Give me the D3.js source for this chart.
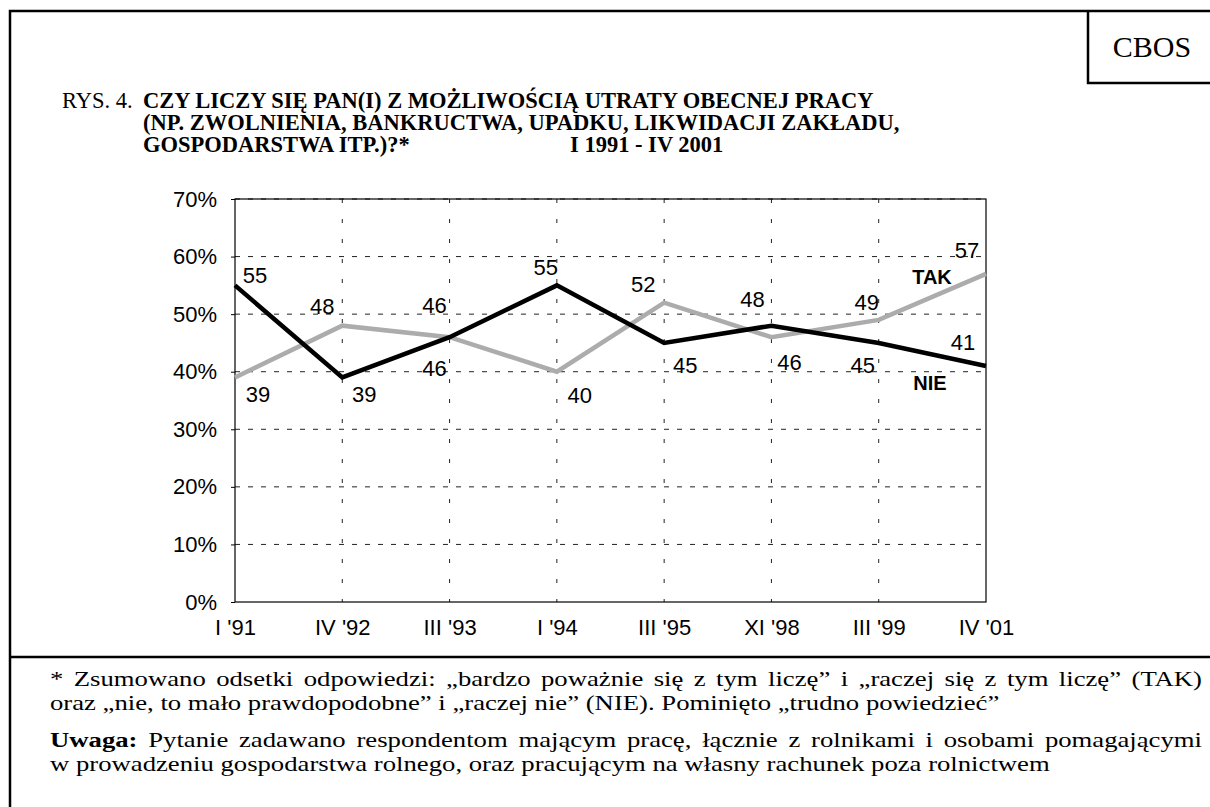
<!DOCTYPE html>
<html>
<head>
<meta charset="utf-8">
<script src="https://cdn.jsdelivr.net/npm/d3@7"></script>
<style>
  body { margin: 0; background: #fff; }
  svg { display: block; }
</style>
</head>
<body>
<svg id="chart"></svg>
<script>
const width = 1210;
const height = 807;

// data
const periods = ["I '91", "IV '92", "III '93", "I '94", "III '95", "XI '98", "III '99", "IV '01"];
const takValues = [39, 48, 46, 40, 52, 46, 49, 57];
const nieValues = [55, 39, 46, 55, 45, 48, 45, 41];
const yTicks = [0, 10, 20, 30, 40, 50, 60, 70];

const titlePrefix = 'RYS. 4.';
const titleLines = [
  'CZY LICZY SIĘ PAN(I) Z MOŻLIWOŚCIĄ UTRATY OBECNEJ PRACY',
  '(NP. ZWOLNIENIA, BANKRUCTWA, UPADKU, LIKWIDACJI ZAKŁADU,',
  'GOSPODARSTWA ITP.)?*'
];
const titleRange = 'I 1991 - IV 2001';
const noteLines = [
  '* Zsumowano odsetki odpowiedzi: „bardzo poważnie się z tym liczę” i „raczej się z tym liczę” (TAK)',
  'oraz „nie, to mało prawdopodobne” i „raczej nie” (NIE). Pominięto „trudno powiedzieć”',
  'Pytanie zadawano respondentom mającym pracę, łącznie z rolnikami i osobami pomagającymi',
  'w prowadzeniu gospodarstwa rolnego, oraz pracującym na własny rachunek poza rolnictwem'
];

const serif = '"Liberation Serif", "Times New Roman", serif';
const sans = '"Liberation Sans", Arial, sans-serif';

const svg = d3.select('#chart')
  .attr('width', width)
  .attr('height', height);

// frame
svg.append('rect')
  .attr('x', 10).attr('y', 11)
  .attr('width', 1210).attr('height', 810)
  .attr('fill', 'none').attr('stroke', '#000').attr('stroke-width', 2.5);
svg.append('line')
  .attr('x1', 10).attr('x2', width).attr('y1', 657).attr('y2', 657)
  .attr('stroke', '#000').attr('stroke-width', 2.5);
svg.append('path')
  .attr('d', 'M1088,11V83H1210')
  .attr('fill', 'none').attr('stroke', '#000').attr('stroke-width', 2.5);
svg.append('text')
  .attr('x', 1152).attr('y', 57)
  .attr('text-anchor', 'middle')
  .style('font-family', serif).style('font-size', '30px')
  .text('CBOS');

// title
const title = svg.append('g')
  .style('font-family', serif).style('font-size', '22.5px');
title.append('text').attr('x', 62).attr('y', 108).text(titlePrefix);
title.append('text').attr('x', 143).attr('y', 108)
  .attr('font-weight', 'bold').text(titleLines[0]);
title.append('text').attr('x', 143).attr('y', 130)
  .attr('font-weight', 'bold').text(titleLines[1]);
title.append('text').attr('x', 143).attr('y', 152)
  .attr('font-weight', 'bold').text(titleLines[2]);
title.append('text').attr('x', 570).attr('y', 152)
  .attr('font-weight', 'bold').text(titleRange);

// plot
const plot = { left: 235, right: 986, top: 199, bottom: 602 };

const x = d3.scalePoint().domain(periods).range([plot.left, plot.right]);
const y = d3.scaleLinear().domain([0, 70]).range([plot.bottom, plot.top]);

const grid = svg.append('g');
grid.selectAll('.hgrid')
  .data(yTicks.filter(d => d > 0))
  .enter().append('line')
  .attr('x1', plot.left).attr('x2', plot.right)
  .attr('y1', d => y(d)).attr('y2', d => y(d))
  .attr('stroke', '#222').attr('stroke-width', 1)
  .attr('stroke-dasharray', '5,8');
grid.selectAll('.vgrid')
  .data(periods.slice(1, -1))
  .enter().append('line')
  .attr('x1', d => x(d)).attr('x2', d => x(d))
  .attr('y1', plot.top).attr('y2', plot.bottom)
  .attr('stroke', '#222').attr('stroke-width', 1)
  .attr('stroke-dasharray', '4,16');

svg.append('rect')
  .attr('x', plot.left).attr('y', plot.top)
  .attr('width', plot.right - plot.left).attr('height', plot.bottom - plot.top)
  .attr('fill', 'none').attr('stroke', '#000').attr('stroke-width', 1.2);

const yAxis = svg.append('g')
  .attr('transform', `translate(${plot.left},0)`)
  .call(d3.axisLeft(y).tickValues(yTicks).tickFormat(d => d + '%').tickSize(4).tickPadding(14));
const xAxis = svg.append('g')
  .attr('transform', `translate(0,${plot.bottom})`)
  .call(d3.axisBottom(x).tickSize(0).tickPadding(17));
[yAxis, xAxis].forEach(a => {
  a.select('.domain').remove();
  a.selectAll('text').style('font-family', sans).style('font-size', '22px').attr('fill', '#000');
});

const line = d3.line()
  .x((d, i) => x(periods[i]))
  .y(d => y(d));

svg.append('path').datum(takValues)
  .attr('d', line)
  .attr('fill', 'none').attr('stroke', '#acacac').attr('stroke-width', 4.5);
svg.append('path').datum(nieValues)
  .attr('d', line)
  .attr('fill', 'none').attr('stroke', '#000').attr('stroke-width', 4.5);

// value labels, nudged off their points like the original
const takShift = [[23, 17], [-20, -20], [-15, -32], [23, 23], [-21, -19], [18, 25], [-12, -18], [-19, -24]];
const nieShift = [[20, -10], [22, 17], [-15, 31], [-11, -18], [21, 22], [-19, -27], [-16, 22], [-23, -24]];

function valueLabels(values, shift) {
  svg.append('g').selectAll('text')
    .data(values)
    .enter().append('text')
    .attr('x', (d, i) => x(periods[i]) + shift[i][0])
    .attr('y', (d, i) => y(d) + shift[i][1])
    .attr('dy', '0.36em')
    .attr('text-anchor', 'middle')
    .style('font-family', sans).style('font-size', '22px')
    .text(d => d);
}
valueLabels(takValues, takShift);
valueLabels(nieValues, nieShift);

const last = periods.length - 1;
svg.append('text')
  .attr('x', x(periods[last]) - 54).attr('y', y(takValues[last]) + 3)
  .attr('dy', '0.36em').attr('text-anchor', 'middle')
  .style('font-family', sans).style('font-size', '20px').style('font-weight', 'bold')
  .text('TAK');
svg.append('text')
  .attr('x', x(periods[last]) - 56).attr('y', y(nieValues[last]) + 17)
  .attr('dy', '0.36em').attr('text-anchor', 'middle')
  .style('font-family', sans).style('font-size', '20px').style('font-weight', 'bold')
  .text('NIE');

// notes below the chart: the original face is set wide, so stretch it
const notes = svg.append('g')
  .style('font-family', serif).style('font-size', '22px');
const noteY = [686, 710, 747, 771];
const rows = noteY.map(yy => notes.append('g').attr('transform', `translate(50,${yy})`));
const n1 = rows[0].append('text').text(noteLines[0]);
rows[1].append('text').text(noteLines[1]);
const n3 = rows[2].append('text');
n3.append('tspan').attr('font-weight', 'bold').text('Uwaga: ');
n3.append('tspan').text(noteLines[2]);
const n4 = rows[3].append('text').text(noteLines[3]);

const stretch = 1000 / n4.node().getComputedTextLength();
rows.forEach((g, i) => g.attr('transform', `translate(50,${noteY[i]}) scale(${stretch},1)`));

function justify(sel, w) {
  const natural = sel.node().getComputedTextLength();
  const gaps = (sel.text().match(/ /g) || []).length;
  if (gaps && natural < w) sel.attr('word-spacing', (w - natural) / gaps);
}
justify(n1, (1202 - 50) / stretch);
justify(n3, (1202 - 50) / stretch);
</script>
</body>
</html>
